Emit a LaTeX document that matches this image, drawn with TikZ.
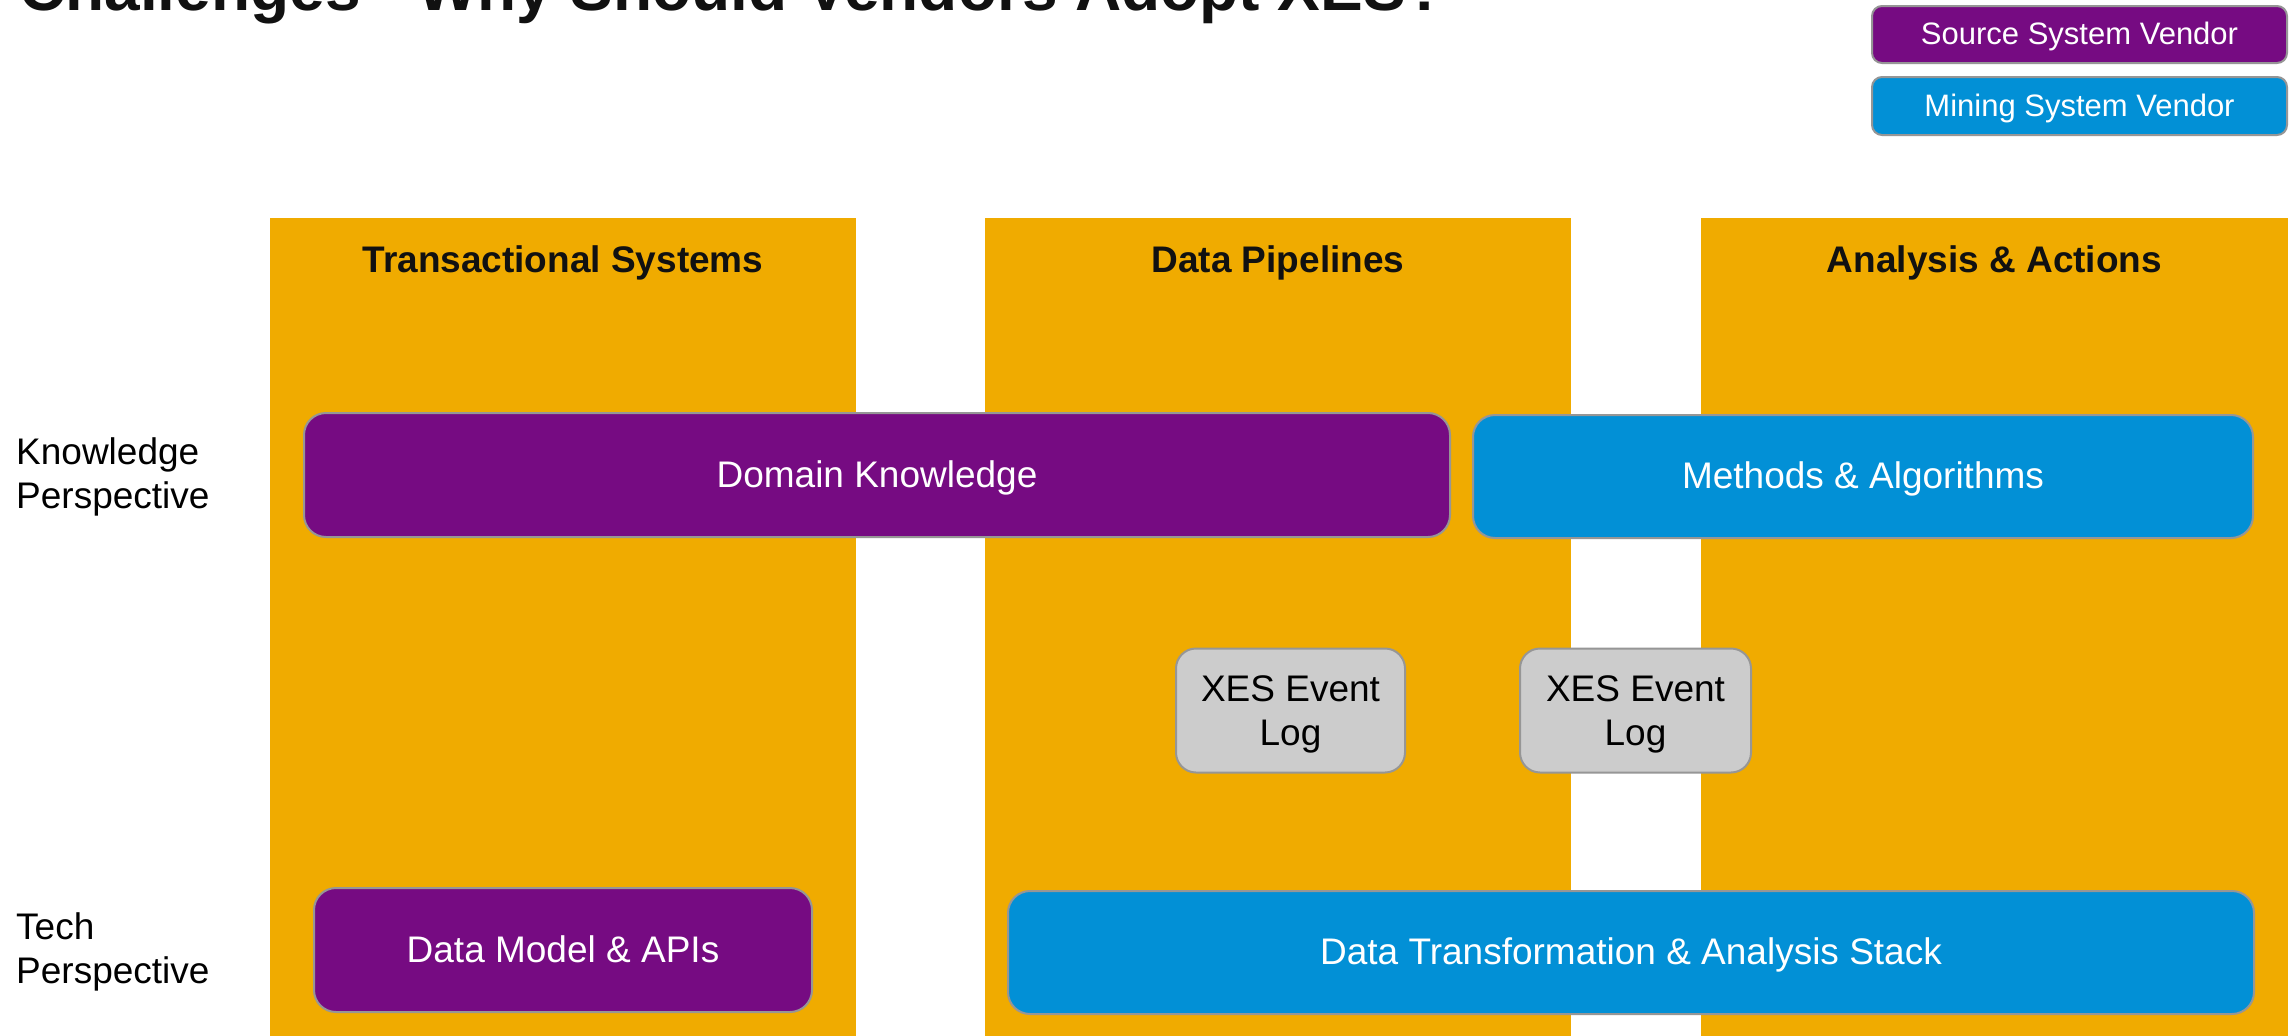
\documentclass[tikz,border=0pt]{standalone}
\usepackage{fontspec}
\setmainfont{Liberation Sans}
\definecolor{vpurple}{RGB}{118,11,130}
\definecolor{vblue}{RGB}{2,144,214}
\definecolor{vorange}{RGB}{240,171,0}
\definecolor{vgray}{RGB}{204,204,204}
\definecolor{vborder}{RGB}{150,150,150}
\definecolor{vtext}{RGB}{17,17,17}
\tikzset{
  colbox/.style={fill=vorange, draw=none},
  hdr/.style={anchor=base, inner sep=0pt, text=vtext, font=\fontsize{37}{44}\selectfont\bfseries},
  rbox/.style={draw=vborder, line width=2pt, rounded corners=22pt, inner sep=0pt, align=center, text depth=0pt, font=\fontsize{37}{44}\selectfont},
  srcbox/.style={rbox, fill=vpurple, text=white, text height=24pt},
  minebox/.style={rbox, fill=vblue, text=white, text height=24pt},
  xesbox/.style={rbox, fill=vgray, text=black, rounded corners=20pt},
  legbox/.style={draw=vborder, line width=2pt, rounded corners=10pt, inner sep=0pt, text=white, text height=20pt, text depth=0pt, font=\fontsize{31}{36}\selectfont},
  sidelbl/.style={anchor=base west, inner sep=0pt, align=left, text=black, font=\fontsize{37}{44}\selectfont},
}
\begin{document}
\begin{tikzpicture}[x=1pt,y=-1pt]
\clip (0,0) rectangle (2295,1036);
\fill[white] (0,0) rectangle (2295,1036);
% title (cut off at the top)
\node[anchor=base west, inner sep=0pt, text=vtext, font=\fontsize{64}{70}\selectfont\bfseries] (title) at (19,10) {Challenges - Why Should Vendors Adopt XES?};
% legend
\node[legbox, fill=vpurple, minimum width=415pt, minimum height=57pt] (legsrc) at (2079.5,34.5) {Source System Vendor};
\node[legbox, fill=vblue, minimum width=415pt, minimum height=58pt] (legmine) at (2079.5,106) {Mining System Vendor};
% columns
\fill[colbox] (270,218) rectangle (856,1040);
\fill[colbox] (985,218) rectangle (1571,1040);
\fill[colbox] (1701,218) rectangle (2288,1040);
\node[hdr] (h1) at (563,272) {Transactional Systems};
\node[hdr] (h2) at (1278,272) {Data Pipelines};
\node[hdr] (h3) at (1994.5,272) {Analysis \& Actions};
% side labels (anchor on the baseline of the last line)
\node[sidelbl] (kp) at (16,508) {Knowledge\\Perspective};
\node[sidelbl] (tp) at (16,983.5) {Tech\\Perspective};
% boxes
\node[srcbox, minimum width=1146pt, minimum height=124pt] (dk) at (877,475) {Domain Knowledge};
\node[minebox, minimum width=780pt, minimum height=123pt] (ma) at (1863,476.5) {Methods \& Algorithms};
\node[xesbox, minimum width=229pt, minimum height=124pt] (x1) at ([yshift=-1.5pt]1290.5,709) {XES Event\\Log};
\node[xesbox, minimum width=231pt, minimum height=124pt] (x2) at ([yshift=-1.5pt]1635.5,709) {XES Event\\Log};
\node[srcbox, minimum width=498pt, minimum height=124pt] (dm) at (563,950) {Data Model \& APIs};
\node[minebox, minimum width=1246pt, minimum height=123pt] (dt) at (1631,952.5) {Data Transformation \& Analysis Stack};
\end{tikzpicture}
\end{document}
